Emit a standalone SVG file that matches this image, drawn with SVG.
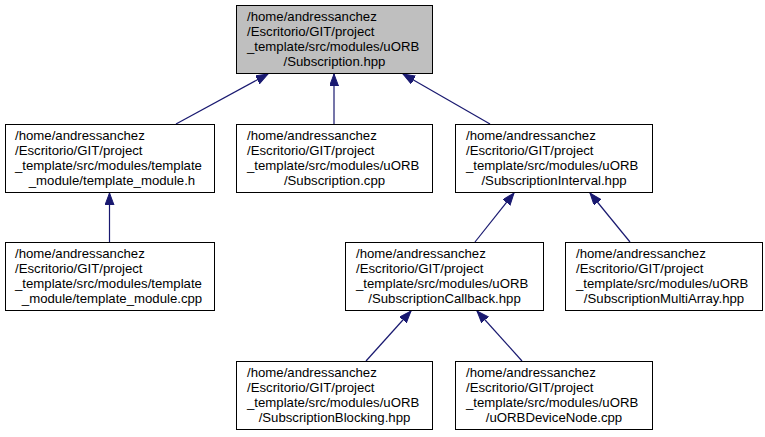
<svg xmlns="http://www.w3.org/2000/svg" width="765" height="437" viewBox="0 0 765 437">
<style>
.box{fill:#ffffff;stroke:#000000;stroke-width:1}
.hl{fill:#bfbfbf}
text{font-family:"Liberation Sans",Arial,Helvetica,sans-serif;font-size:13.2px;fill:#000000}
.c{text-anchor:middle}
.edge{stroke:#191970;stroke-width:1.2;fill:none}
</style>
<defs>
<marker id="ah" markerUnits="userSpaceOnUse" markerWidth="14" markerHeight="12" refX="12" refY="4.5" orient="auto">
<path d="M0,0 L12,4.5 L0,9 z" fill="#191970" stroke="#191970" stroke-width="1"/>
</marker>
</defs>
<rect width="765" height="437" fill="#ffffff"/>
<g id="connectors">
<path class="edge" d="M176,124 L268,74" marker-end="url(#ah)"/>
<path class="edge" d="M334,124 L334,74" marker-end="url(#ah)"/>
<path class="edge" d="M490,124 L403,74" marker-end="url(#ah)"/>
<path class="edge" d="M109.5,242 L109.5,193" marker-end="url(#ah)"/>
<path class="edge" d="M475,242 L514,193" marker-end="url(#ah)"/>
<path class="edge" d="M630,242 L590,193" marker-end="url(#ah)"/>
<path class="edge" d="M366,361 L411,311" marker-end="url(#ah)"/>
<path class="edge" d="M522,361 L477,311" marker-end="url(#ah)"/>
</g>
<g id="node_subscription_hpp">
<rect class="box hl" x="236.5" y="5.5" width="196" height="68"/>
<text x="247" y="21">/home/andressanchez</text>
<text x="247" y="36">/Escritorio/GIT/project</text>
<text x="247" y="51">_template/src/modules/uORB</text>
<text class="c" x="334.5" y="66">/Subscription.hpp</text>
</g>
<g id="node_template_module_h">
<rect class="box" x="5.5" y="124.5" width="209" height="68"/>
<text x="15" y="140">/home/andressanchez</text>
<text x="15" y="155">/Escritorio/GIT/project</text>
<text x="15" y="170">_template/src/modules/template</text>
<text class="c" x="112" y="185">_module/template_module.h</text>
</g>
<g id="node_subscription_cpp">
<rect class="box" x="236.5" y="124.5" width="196" height="68"/>
<text x="247" y="140">/home/andressanchez</text>
<text x="247" y="155">/Escritorio/GIT/project</text>
<text x="247" y="170">_template/src/modules/uORB</text>
<text class="c" x="334.5" y="185">/Subscription.cpp</text>
</g>
<g id="node_subscription_interval">
<rect class="box" x="455.5" y="124.5" width="197" height="68"/>
<text x="466" y="140">/home/andressanchez</text>
<text x="466" y="155">/Escritorio/GIT/project</text>
<text x="466" y="170">_template/src/modules/uORB</text>
<text class="c" x="554" y="185">/SubscriptionInterval.hpp</text>
</g>
<g id="node_template_module_cpp">
<rect class="box" x="5.5" y="242.5" width="209" height="68"/>
<text x="15" y="258">/home/andressanchez</text>
<text x="15" y="273">/Escritorio/GIT/project</text>
<text x="15" y="288">_template/src/modules/template</text>
<text class="c" x="112" y="303">_module/template_module.cpp</text>
</g>
<g id="node_subscription_callback">
<rect class="box" x="345.5" y="242.5" width="198" height="68"/>
<text x="356" y="258">/home/andressanchez</text>
<text x="356" y="273">/Escritorio/GIT/project</text>
<text x="356" y="288">_template/src/modules/uORB</text>
<text class="c" x="444.5" y="303">/SubscriptionCallback.hpp</text>
</g>
<g id="node_subscription_multiarray">
<rect class="box" x="565.5" y="242.5" width="197" height="68"/>
<text x="576" y="258">/home/andressanchez</text>
<text x="576" y="273">/Escritorio/GIT/project</text>
<text x="576" y="288">_template/src/modules/uORB</text>
<text class="c" x="664" y="303">/SubscriptionMultiArray.hpp</text>
</g>
<g id="node_subscription_blocking">
<rect class="box" x="236.5" y="361.5" width="196" height="68"/>
<text x="247" y="377">/home/andressanchez</text>
<text x="247" y="392">/Escritorio/GIT/project</text>
<text x="247" y="407">_template/src/modules/uORB</text>
<text class="c" x="334.5" y="422">/SubscriptionBlocking.hpp</text>
</g>
<g id="node_uorb_device_node">
<rect class="box" x="455.5" y="361.5" width="197" height="68"/>
<text x="466" y="377">/home/andressanchez</text>
<text x="466" y="392">/Escritorio/GIT/project</text>
<text x="466" y="407">_template/src/modules/uORB</text>
<text class="c" x="554" y="422">/uORBDeviceNode.cpp</text>
</g>
</svg>
